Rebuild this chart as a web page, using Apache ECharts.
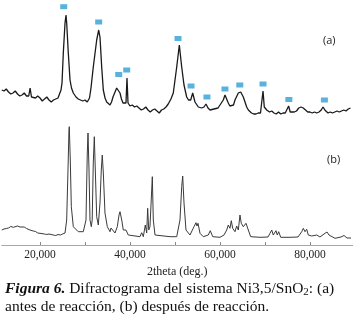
<!DOCTYPE html>
<html>
<head>
<meta charset="utf-8">
<script src="https://cdn.jsdelivr.net/npm/echarts@6/dist/echarts.min.js"></script>
<style>
  html, body { margin: 0; padding: 0; background: #fff; }
  #chart { width: 353px; height: 321px; }
</style>
</head>
<body>
<div id="chart"></div>
<script>
// (a) antes de reacción
const angleA = [11.5, 12, 12.5, 13, 13.5, 14, 14.5, 15, 15.5, 16, 16.5, 17, 17.5, 17.8, 18.1, 18.5, 19, 19.5, 20, 20.5,
  21, 21.5, 22, 22.5, 23, 23.5, 24, 24.3, 24.67, 24.89, 25.18, 25.56, 25.78, 25.93, 26.29, 26.67, 27, 27.4, 28, 28.5,
  28.89, 29.5, 30, 30.5, 31, 31.33, 31.84, 32.6, 33.04, 33.33, 33.71, 34.07, 34.45, 34.82, 35.2, 35.56, 35.9, 36.22, 37.04, 37.4,
  37.78, 38.1, 38.44, 38.8, 39.11, 39.33, 39.56, 40, 40.5, 41, 41.5, 42, 42.5, 43, 43.5, 44, 44.5, 45, 45.5, 46,
  46.5, 47, 47.5, 48, 48.5, 49.1, 49.62, 50.38, 50.96, 51.49, 52, 52.6, 53, 53.49, 53.93, 54.44, 55.18, 55.93, 56.44, 56.89,
  57.33, 57.78, 58.2, 58.67, 59.1, 59.56, 60, 60.73, 61.11, 61.84, 62.2, 62.6, 63, 63.33, 64.07, 64.6, 65.18, 65.93, 66.3, 66.67,
  67, 67.5, 68, 68.5, 69, 69.33, 69.56, 69.84, 70.38, 70.5, 71, 71.5, 72, 72.5, 73, 73.5, 74, 74.5, 74.9, 75.25,
  75.6, 76, 76.5, 77, 77.5, 78, 78.5, 79, 79.5, 80, 80.5, 81, 81.5, 82, 82.5, 82.9, 83.3, 83.7, 84, 84.5,
  85, 85.5, 86, 86.5, 87, 87.5, 88, 88.5, 89];
const countsA = [30, 29, 31, 28, 26, 27, 29, 26, 24, 25, 27, 24, 24, 32, 23, 21, 22, 24, 22, 19,
  21, 23, 20, 18, 20, 21, 22, 23, 30, 37, 67, 97, 105, 97, 67, 40, 32, 27, 23, 21,
  20, 19, 20, 18, 22, 32, 53, 80, 90, 83, 53, 30, 22, 18, 16, 15, 18, 23, 32, 34,
  27, 21, 17, 16, 17, 42, 17, 14, 15, 13, 14, 12, 10, 11, 13, 10, 8, 10, 11, 9,
  7, 10, 11, 13, 16, 21, 27, 53, 75, 53, 35, 23, 20, 20, 27, 18, 13, 12, 13, 16,
  12, 10, 12, 11, 9, 12, 14, 20, 25, 17, 14, 12, 15, 20, 27, 28, 23, 13, 10, 8,
  7, 6, 6, 7, 7, 8, 29, 13, 10, 10, 8, 9, 7, 6, 8, 6, 7, 7, 9, 14,
  8, 7, 8, 9, 12, 13, 12, 10, 8, 8, 7, 8, 7, 8, 10, 13, 10, 8, 7, 8,
  7, 8, 9, 8, 9, 10, 9, 11, 12];

// (b) después de reacción
const angleB = [11.5, 12, 12.5, 13, 13.5, 14.07, 14.5, 15, 15.56, 16, 16.5, 17, 17.78, 18.5, 19, 19.5, 20, 21, 21.5, 22,
  22.96, 23.5, 24, 24.5, 25, 25.56, 25.93, 26.22, 26.44, 26.51, 26.73, 26.96, 27.4, 28.51, 29.62, 30.22, 30.51, 30.67, 30.89, 31.11,
  31.4, 31.6, 31.84, 32.07, 32.29, 32.6, 32.96, 33.33, 33.62, 33.84, 34.07, 34.44, 34.96, 35.56, 35.78, 36.67, 37.18, 37.56, 37.78, 38.16,
  38.51, 39.11, 39.27, 39.62, 40, 42.22, 42.6, 42.96, 43.4, 43.71, 43.93, 44.16, 44.44, 44.96, 45.18, 45.56, 45.93, 48.89, 50.38, 51.11,
  51.49, 51.71, 52, 52.44, 53.33, 54.22, 54.67, 54.89, 55.11, 55.56, 56.29, 57.4, 57.84, 58.38, 60, 60.89, 61.49, 61.84, 62.22, 62.51,
  62.82, 63.33, 63.71, 64.07, 64.44, 64.73, 65.18, 65.78, 66.29, 66.82, 68.89, 70.67, 71.11, 71.49, 71.84, 72.44, 72.73, 73.04, 73.49, 75.56,
  77.33, 78.16, 78.51, 78.89, 79.27, 79.62, 80.38, 81.49, 82.22, 83.33, 83.78, 84.22, 85.56, 86.89, 87.56, 88.22, 89.11];
const countsB = [15, 16, 16.5, 17, 18.5, 17.7, 18, 19, 18, 17.5, 18, 16.5, 15, 14, 13.5, 12, 11.7, 11, 10.5, 11,
  10, 9.5, 10.5, 10, 11, 12, 25, 75, 115, 118.3, 85, 38.3, 18.3, 13.3, 13.3, 25, 92, 112, 75, 25,
  18.3, 25, 82, 108.3, 75, 28.3, 20, 42, 75, 90, 72, 32, 18.3, 13.3, 17, 12, 18.3, 30, 33.3, 25,
  15, 15, 17, 10, 8.3, 8.3, 12.3, 8.3, 20, 12, 36.7, 15, 18.3, 68.3, 25, 10, 8.3, 8.3, 8.3, 25,
  58.3, 69, 42, 15, 10, 18.3, 22.3, 19, 21.7, 11.7, 8.3, 10, 14.3, 8.3, 7.7, 10, 15, 20, 16.7, 24.3,
  16.7, 13.3, 19, 15, 30, 21.7, 18.3, 21.7, 15, 8.3, 7.7, 8, 11.7, 15, 10, 14.3, 10, 13.3, 7.7, 7.7,
  8, 13.3, 16.7, 13.3, 15.7, 10, 9, 10, 8, 11.7, 13, 10, 6.7, 8, 9.5, 7, 7];

// phase markers above pattern (a)
const markAngle = [25.27, 33.04, 37.49, 39.27, 50.67, 53.56, 57.1, 61.1, 64.4, 69.56, 75.3, 83.2];
const markCounts = [113.3, 98, 45.5, 50, 81.5, 34, 23, 31, 35, 36, 20.5, 20];

const tickValues = [20, 30, 40, 50, 60, 70, 80];
const labelValues = [20, 40, 60, 80];

const zip = (xs, ys) => xs.map((x, i) => [x, ys[i]]);

const chart = echarts.init(document.getElementById('chart'));

const option = {
  animation: false,
  grid: [
    { left: 1.75, width: 351, top: 0, height: 120 },
    { left: 1.75, width: 351, top: 120, height: 125 }
  ],
  xAxis: [
    { gridIndex: 0, type: 'value', min: 11.5, max: 89.5, show: false },
    {
      gridIndex: 1, type: 'value', min: 11.5, max: 89.5,
      axisLine: { lineStyle: { color: '#a8a8a8', width: 1 } },
      axisTick: { inside: true, length: 3, customValues: tickValues, lineStyle: { color: '#888' } },
      axisLabel: {
        customValues: labelValues,
        formatter: v => v + ',000',
        fontFamily: 'Liberation Serif', fontSize: 11.5, color: '#222', margin: 4
      },
      splitLine: { show: false },
      name: '2theta (deg.)',
      nameLocation: 'middle',
      nameGap: 21,
      nameTextStyle: { fontFamily: 'Liberation Serif', fontSize: 12, color: '#222' }
    }
  ],
  yAxis: [
    { gridIndex: 0, type: 'value', min: 0, max: 120, show: false },
    { gridIndex: 1, type: 'value', min: 0, max: 125, show: false }
  ],
  series: [
    {
      type: 'line', xAxisIndex: 0, yAxisIndex: 0,
      data: zip(angleA, countsA),
      symbol: 'none',
      lineStyle: { color: '#1a1a1a', width: 1.3 }
    },
    {
      type: 'scatter', xAxisIndex: 0, yAxisIndex: 0,
      data: zip(markAngle, markCounts),
      symbol: 'rect', symbolSize: [7, 5],
      itemStyle: { color: '#2f9fd6' }
    },
    {
      type: 'line', xAxisIndex: 1, yAxisIndex: 1,
      data: zip(angleB, countsB),
      symbol: 'none',
      lineStyle: { color: '#3a3a3a', width: 1 }
    }
  ],
  graphic: [
    { type: 'text', left: 323, top: 35, style: { text: '(a)', font: '11px "Open Sans"', fill: '#222' } },
    { type: 'text', left: 327, top: 154, style: { text: '(b)', font: '11px "Open Sans"', fill: '#222' } },
    {
      type: 'text', left: 5, top: 280,
      style: {
        text: '{b|Figura 6.} Difractograma del sistema Ni3,5/SnO{s|2}: (a)\nantes de reacción, (b) después de reacción.',
        fontFamily: 'Liberation Serif', fontSize: 15.5, lineHeight: 18, fill: '#111',
        rich: {
          b: { fontFamily: 'Liberation Serif', fontSize: 15.5, fontWeight: 'bold', fontStyle: 'italic', fill: '#111' },
          s: { fontFamily: 'Liberation Serif', fontSize: 11, fill: '#111', verticalAlign: 'bottom', padding: [6, 0, 0, 0] }
        }
      }
    }
  ]
};

chart.setOption(option);
window.addEventListener('resize', () => chart.resize());
</script>
</body>
</html>
